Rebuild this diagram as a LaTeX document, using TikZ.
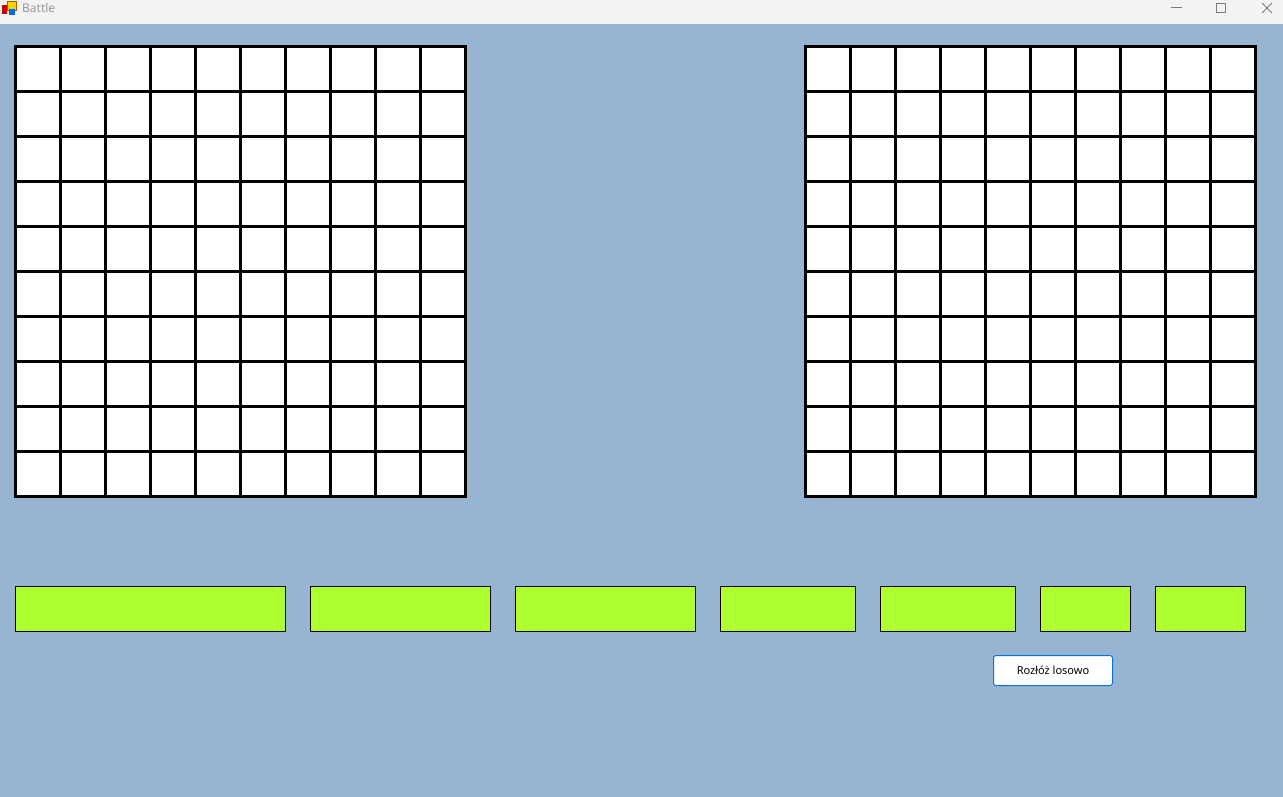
\documentclass[tikz,border=0pt]{standalone}
\usepackage{fontspec}
\setmainfont{Noto Sans}
\definecolor{formbg}{HTML}{98B4D3}
\definecolor{titlebg}{HTML}{F3F3F3}
\definecolor{titletext}{HTML}{9A9A9A}
\definecolor{shipgreen}{HTML}{ADFF2F}
\definecolor{btnblue}{HTML}{0078D7}
\tikzset{
  gridline/.style={line width=3pt, black},
  shipbox/.style={draw=black, line width=1pt, fill=shipgreen, inner sep=0pt, outer sep=0pt, anchor=north west},
  winctl/.style={draw=titletext!80!black, line width=1pt},
}
\begin{document}
\begin{tikzpicture}[x=1pt,y=-1pt]
\useasboundingbox (0,0) rectangle (1283,797);
\fill[formbg] (0,0) rectangle (1283,797);
\fill[titlebg] (0,0) rectangle (1283,24);
% icon
\fill[red!80!black] (2,5) rectangle (7,14);
\fill[yellow!70!orange] (7,1) rectangle (16,10);
\draw[orange!70!black, line width=0.5pt] (7,1) rectangle (16,10);
\fill[blue!60!cyan] (9,9) rectangle (15,15);
\node[anchor=west, text=titletext, font=\fontsize{12}{14}\selectfont, inner sep=0pt] (title) at (22,8.5) {Battle};
% window controls
\draw[winctl] (1171,8) -- (1182,8);
\draw[winctl] (1216,3.5) rectangle (1225.5,13);
\draw[winctl] (1262,3) -- (1272,13) (1272,3) -- (1262,13);
% grids
\foreach \ox in {15.5,805.5}{
  \foreach \k in {0,...,10}{
    \draw[gridline] (\ox+45*\k,46.5) -- (\ox+45*\k,496.5);
    \draw[gridline] (\ox,46.5+45*\k) -- (\ox+450,46.5+45*\k);
  }
  \fill[white] \foreach \i in {0,...,9}{\foreach \j in {0,...,9}{ (\ox+45*\i+1.5,46.5+45*\j+1.5) rectangle (\ox+45*\i+43.5,46.5+45*\j+43.5)}};
  \draw[gridline, line cap=rect] (\ox,46.5) rectangle (\ox+450,496.5);
  \foreach \k in {1,...,9}{
    \draw[gridline] (\ox+45*\k,46.5) -- (\ox+45*\k,496.5);
    \draw[gridline] (\ox,46.5+45*\k) -- (\ox+450,46.5+45*\k);
  }
}
% ships
\node[shipbox, minimum width=270pt, minimum height=45pt] (s1) at (15.5,586.5) {};
\node[shipbox, minimum width=180pt, minimum height=45pt] (s2) at (310.5,586.5) {};
\node[shipbox, minimum width=180pt, minimum height=45pt] (s3) at (515.5,586.5) {};
\node[shipbox, minimum width=135pt, minimum height=45pt] (s4) at (720.5,586.5) {};
\node[shipbox, minimum width=135pt, minimum height=45pt] (s5) at (880.5,586.5) {};
\node[shipbox, minimum width=90pt, minimum height=45pt] (s6) at (1040.5,586.5) {};
\node[shipbox, minimum width=90pt, minimum height=45pt] (s7) at (1155.5,586.5) {};
% button
\node[draw=btnblue, line width=1pt, fill=white, rounded corners=2.5pt, minimum width=119pt, minimum height=30pt, inner sep=0pt, font=\fontsize{11}{13}\selectfont] (btn) at (1053,670.5) {Rozłóż losowo};
\end{tikzpicture}
\end{document}
